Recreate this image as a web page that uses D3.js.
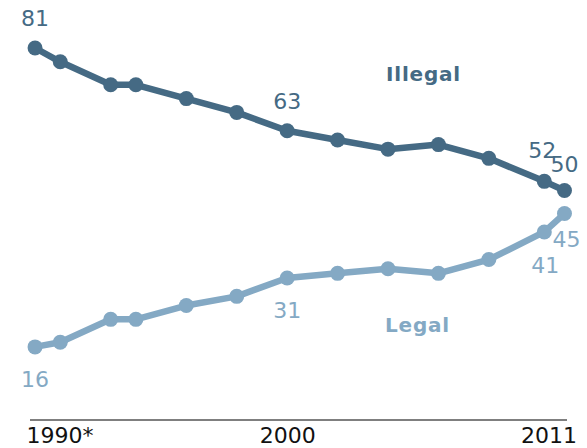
<!DOCTYPE html>
<html><head><meta charset="utf-8">
<script src="https://cdn.jsdelivr.net/npm/d3@7"></script>
<style>
html,body{margin:0;padding:0;background:#fff;}
svg{display:block;font-family:"DejaVu Sans",Verdana,sans-serif;}
</style></head>
<body>
<svg id="c" width="587" height="448"></svg>
<script>
// Survey years (2010 survey sits slightly later in the year)
const years = [1990, 1991, 1993, 1994, 1996, 1998, 2000, 2002, 2004, 2006, 2008, 2010.2, 2011];
const illegal = [81, 78, 73, 73, 70, 67, 63, 61, 59, 60, 57, 52, 50];
const legal   = [16, 17, 22, 22, 25, 27, 31, 32, 33, 32, 35, 41, 45];
const tickValues = [1990, 2000, 2011];
const tickLabels = ["1990*", "2000", "2011"];
const labelledIdx = [0, 6, 11, 12];
const seriesNames = ["Illegal", "Legal"];

const svg = d3.select("#c");
const x = d3.scaleLinear().domain([1989.8, 2011.1]).range([30, 567]);
const y = d3.scaleLinear().domain([0, 81]).range([420.5, 48]);

const dark = "#456a84", light = "#84a9c4";

// axis baseline
const axis = d3.axisBottom(x).tickValues(tickValues).tickSize(0).tickFormat((d,i)=>tickLabels[i]);
const ag = svg.append("g").attr("transform","translate(0,420)").call(axis);
ag.select(".domain").attr("stroke","#000").attr("stroke-width",1.2).attr("d","M30,0H567");
ag.selectAll(".tick text").attr("font-size",22).attr("fill","#111")
  .attr("font-family","'DejaVu Sans',Verdana,sans-serif")
  .attr("y",23).attr("dy",0)
  .attr("text-anchor",(d,i)=> i===0 ? "start" : (i===2 ? "end" : "middle"))
  .attr("dx",(d,i)=> i===0 ? -9 : (i===2 ? 12 : 0));

const line = d3.line().x((d,i)=>x(years[i])).y(d=>y(d));

function drawSeries(vals, color){
  svg.append("path").datum(vals).attr("d",line).attr("fill","none")
    .attr("stroke",color).attr("stroke-width",6.5).attr("stroke-linejoin","round");
  svg.append("g").selectAll("circle").data(vals).join("circle")
    .attr("cx",(d,i)=>x(years[i])).attr("cy",d=>y(d)).attr("r",7.5).attr("fill",color);
}
drawSeries(illegal, dark);
drawSeries(legal, light);

// value labels
const darkOff = {0:[0,-22],6:[0,-22],11:[-2,-23],12:[0,-19]};
const lightOff = {0:[0,40],6:[0,40],11:[1,41],12:[2,33]};
svg.append("g").selectAll("text").data(labelledIdx).join("text")
  .attr("x",i=>x(years[i])+darkOff[i][0]).attr("y",i=>y(illegal[i])+darkOff[i][1])
  .attr("text-anchor","middle").attr("font-size",22).attr("fill",dark).text(i=>illegal[i]);
svg.append("g").selectAll("text").data(labelledIdx).join("text")
  .attr("x",i=>x(years[i])+lightOff[i][0]).attr("y",i=>y(legal[i])+lightOff[i][1])
  .attr("text-anchor","middle").attr("font-size",22).attr("fill",light).text(i=>legal[i]);

// series names
svg.append("text").attr("x",386).attr("y",81).attr("font-size",20).attr("font-weight","bold")
  .attr("letter-spacing",0.8).attr("fill",dark).text(seriesNames[0]);
svg.append("text").attr("x",385).attr("y",332).attr("font-size",20).attr("font-weight","bold")
  .attr("letter-spacing",0.8).attr("fill",light).text(seriesNames[1]);
</script>
</body></html>
